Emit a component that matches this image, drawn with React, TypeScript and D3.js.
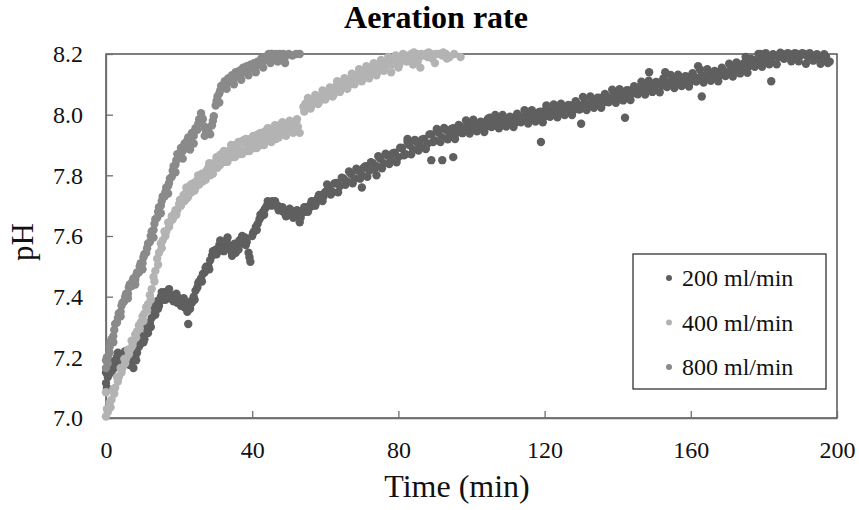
import * as d3 from 'd3';
import React, { useRef, useEffect } from 'react';

// pH readings [time (min), pH] for each aeration rate
const rate200: [number, number][] = [
  [0, 7.115], [0, 7.15], [0.5, 7.135], [1, 7.16], [1.5, 7.15], [2, 7.185], [2.5, 7.17], [3, 7.2], [3.5, 7.185],
  [4, 7.21], [4.5, 7.195], [5, 7.205], [5.5, 7.19], [6, 7.2], [6.5, 7.175], [7, 7.19], [7.5, 7.165], [8, 7.2],
  [8.5, 7.215], [9, 7.235], [9.5, 7.245], [10, 7.27], [10.5, 7.26], [11, 7.295], [11.5, 7.28], [12, 7.315],
  [12.5, 7.33], [13, 7.355], [13.5, 7.34], [14, 7.385], [14.5, 7.37], [15, 7.4], [15.5, 7.39], [16, 7.415],
  [16.5, 7.4], [17, 7.415], [17.5, 7.395], [18, 7.405], [18.5, 7.385], [19, 7.4], [19.5, 7.38], [20, 7.395],
  [20.5, 7.37], [21, 7.38], [21.5, 7.365], [22, 7.375], [22.5, 7.31], [23, 7.36], [23.5, 7.38], [24, 7.4],
  [24.5, 7.42], [25, 7.43], [25.5, 7.45], [26, 7.46], [26.5, 7.475], [27, 7.48], [27.5, 7.5], [28, 7.5],
  [28.5, 7.52], [29, 7.535], [29.5, 7.54], [30, 7.555], [30.5, 7.55], [31, 7.57], [31.5, 7.555], [32, 7.575],
  [32.5, 7.56], [33, 7.585], [33.5, 7.57], [34, 7.565], [34.5, 7.535], [35, 7.56], [35.5, 7.545], [36, 7.57],
  [36.5, 7.585], [37, 7.59], [37.5, 7.575], [38, 7.595], [38.5, 7.58], [39, 7.545], [39.5, 7.515], [40, 7.6],
  [40.5, 7.615], [41, 7.63], [41.5, 7.64], [42, 7.655], [42.5, 7.665], [43, 7.68], [43.5, 7.69], [44, 7.7],
  [44.5, 7.705], [45, 7.71], [45.5, 7.715], [46, 7.705], [46.5, 7.7], [47, 7.7], [47.5, 7.69], [48, 7.685],
  [48.5, 7.68], [49, 7.675], [49.5, 7.68], [50, 7.67], [50.5, 7.685], [51, 7.675], [51.5, 7.665], [52, 7.68],
  [52.5, 7.67], [53, 7.645], [53.5, 7.675], [54, 7.685], [54.5, 7.68], [55, 7.695], [55.5, 7.69], [56, 7.705],
  [56.5, 7.7], [57, 7.715], [57.5, 7.71], [58, 7.725], [58.5, 7.72], [59, 7.735], [59.5, 7.73], [60, 7.745],
  [0.25, 7.1], [1.25, 7.175], [2.25, 7.165], [3.25, 7.215], [4.25, 7.185], [5.25, 7.22], [6.25, 7.18],
  [7.25, 7.2], [8.25, 7.19], [9.25, 7.255], [10.25, 7.25], [11.25, 7.31], [12.25, 7.3], [13.25, 7.37],
  [14.25, 7.36], [15.25, 7.415], [16.25, 7.39], [17.25, 7.425], [18.25, 7.39], [19.25, 7.41], [20.25, 7.38],
  [21.25, 7.395], [22.25, 7.35], [23.25, 7.385], [24.25, 7.39], [25.25, 7.445], [26.25, 7.45], [27.25, 7.495],
  [28.25, 7.49], [29.25, 7.55], [30.25, 7.54], [31.25, 7.585], [32.25, 7.55], [33.25, 7.595], [34.25, 7.55],
  [35.25, 7.575], [36.25, 7.555], [37.25, 7.6], [38.25, 7.57], [39.25, 7.53], [40.25, 7.61], [41.25, 7.62],
  [42.25, 7.67], [43.25, 7.67], [44.25, 7.715], [45.25, 7.7], [46.25, 7.715], [47.25, 7.685], [48.25, 7.695],
  [49.25, 7.665], [50.25, 7.69], [51.25, 7.66], [52.25, 7.685], [53.25, 7.66], [54.25, 7.695], [55.25, 7.68],
  [56.25, 7.715], [57.25, 7.7], [58.25, 7.735], [59.25, 7.715],
  [61, 7.755], [62, 7.745], [63, 7.775], [64, 7.765], [65, 7.79], [66, 7.78], [67, 7.805], [68, 7.79],
  [69, 7.815], [70, 7.8], [71, 7.83], [72, 7.815], [73, 7.84], [74, 7.83], [75, 7.855], [76, 7.84], [77, 7.865],
  [78, 7.85], [79, 7.875], [80, 7.86], [81, 7.89], [82, 7.87], [83, 7.9], [84, 7.885], [85, 7.91], [86, 7.895],
  [87, 7.92], [88, 7.905], [89, 7.935], [90, 7.915], [91, 7.94], [92, 7.925], [93, 7.95], [94, 7.935],
  [95, 7.955], [96, 7.94], [97, 7.96], [98, 7.945], [99, 7.965], [100, 7.95], [101, 7.97], [102, 7.955],
  [103, 7.975], [104, 7.96], [105, 7.98], [106, 7.965], [107, 7.985], [108, 7.97], [109, 7.985], [110, 7.97],
  [111, 7.99], [112, 7.975], [113, 7.995], [114, 7.98], [115, 8.0], [116, 7.985], [117, 8.005], [118, 7.99],
  [119, 8.01], [120, 7.995], [121, 8.015], [122, 8.0], [123, 8.02], [124, 8.005], [125, 8.025], [126, 8.01],
  [127, 8.03], [128, 8.015], [129, 8.035], [130, 8.02], [131, 8.04], [132, 8.03], [133, 8.05], [134, 8.035],
  [135, 8.055], [136, 8.04], [137, 8.06], [138, 8.05], [139, 8.07], [140, 8.055], [141, 8.075], [142, 8.06],
  [143, 8.08], [144, 8.07], [145, 8.09], [146, 8.075], [147, 8.095], [148, 8.085], [149, 8.1], [150, 8.09],
  [151, 8.105], [152, 8.095], [153, 8.11], [154, 8.1], [155, 8.115], [156, 8.105], [157, 8.12], [158, 8.11],
  [159, 8.125], [160, 8.11], [161, 8.125], [162, 8.115], [163, 8.13], [164, 8.12], [165, 8.135], [166, 8.125],
  [167, 8.14], [168, 8.13], [169, 8.145], [170, 8.135], [171, 8.155], [172, 8.145], [173, 8.165], [174, 8.15],
  [175, 8.17], [176, 8.16], [177, 8.18], [178, 8.165], [179, 8.185], [180, 8.175], [181, 8.19], [182, 8.18],
  [183, 8.195], [184, 8.19], [185, 8.2], [186, 8.195], [187, 8.2], [188, 8.19], [189, 8.2], [190, 8.195],
  [191, 8.2], [192, 8.19], [193, 8.195], [194, 8.185], [195, 8.19], [196, 8.18], [197, 8.19], [198, 8.175],
  [60.5, 7.77], [61.5, 7.737], [62.5, 7.773], [63.5, 7.744], [64.5, 7.792], [65.5, 7.769], [66.5, 7.813],
  [67.5, 7.774], [68.5, 7.822], [69.5, 7.789], [70.5, 7.825], [71.5, 7.795], [72.5, 7.843], [73.5, 7.819],
  [74.5, 7.863], [75.5, 7.823], [76.5, 7.871], [77.5, 7.837], [78.5, 7.873], [79.5, 7.843], [80.5, 7.891],
  [81.5, 7.866], [82.5, 7.91], [83.5, 7.869], [84.5, 7.917], [85.5, 7.882], [86.5, 7.918], [87.5, 7.887],
  [88.5, 7.935], [89.5, 7.91], [90.5, 7.953], [91.5, 7.91], [92.5, 7.956], [93.5, 7.919], [94.5, 7.953],
  [95.5, 7.92], [96.5, 7.966], [97.5, 7.939], [98.5, 7.981], [99.5, 7.938], [100.5, 7.983], [101.5, 7.945],
  [102.5, 7.977], [103.5, 7.943], [104.5, 7.987], [105.5, 7.959], [106.5, 7.999], [107.5, 7.955],
  [108.5, 7.999], [109.5, 7.961], [110.5, 7.993], [111.5, 7.959], [112.5, 8.003], [113.5, 7.975],
  [114.5, 8.015], [115.5, 7.971], [116.5, 8.015], [117.5, 7.977], [118.5, 8.009], [119.5, 7.975],
  [120.5, 8.02], [121.5, 7.993], [122.5, 8.034], [123.5, 7.991], [124.5, 8.036], [125.5, 7.999],
  [126.5, 8.032], [127.5, 7.999], [128.5, 8.044], [129.5, 8.017], [130.5, 8.058], [131.5, 8.015],
  [132.5, 8.06], [133.5, 8.023], [134.5, 8.056], [135.5, 8.023], [136.5, 8.068], [137.5, 8.041],
  [138.5, 8.082], [139.5, 8.039], [140.5, 8.084], [141.5, 8.047], [142.5, 8.081], [143.5, 8.048],
  [144.5, 8.094], [145.5, 8.067], [146.5, 8.109], [147.5, 8.066], [148.5, 8.112], [149.5, 8.075],
  [150.5, 8.108], [151.5, 8.074], [152.5, 8.119], [153.5, 8.091], [154.5, 8.131], [155.5, 8.088],
  [156.5, 8.132], [157.5, 8.094], [158.5, 8.127], [159.5, 8.093], [160.5, 8.137], [161.5, 8.109],
  [162.5, 8.149], [163.5, 8.106], [164.5, 8.15], [165.5, 8.112], [166.5, 8.144], [167.5, 8.11],
  [168.5, 8.155], [169.5, 8.127], [170.5, 8.168], [171.5, 8.126], [172.5, 8.172], [173.5, 8.136],
  [174.5, 8.17], [175.5, 8.138], [176.5, 8.184], [177.5, 8.158], [178.5, 8.2], [179.5, 8.158],
  [180.5, 8.203], [181.5, 8.166], [182.5, 8.199], [183.5, 8.166], [184.5, 8.204], [185.5, 8.184],
  [186.5, 8.203], [187.5, 8.176], [188.5, 8.203], [189.5, 8.176], [190.5, 8.203], [191.5, 8.168],
  [192.5, 8.203], [193.5, 8.178], [194.5, 8.199], [195.5, 8.168], [196.5, 8.199], [197.5, 8.17],
  // scattered readings off the main band
  [70, 7.76], [74, 7.8], [82.5, 7.92], [89, 7.85], [92, 7.85], [95, 7.86], [100, 7.976], [105, 7.99],
  [119, 7.91], [120.5, 8.03], [130, 7.97], [142, 7.99], [148.6, 8.14], [153, 8.14], [162, 8.16], [163, 8.06],
  [182, 8.11], [179, 8.2], [175, 8.19],
];

const rate400: [number, number][] = [
  [0, 7.005], [0, 7.085], [0.5, 7.02], [1, 7.05], [1.5, 7.06], [2, 7.095], [2.5, 7.1], [3, 7.135], [3.5, 7.135],
  [4, 7.165], [4.5, 7.165], [5, 7.195], [5.5, 7.195], [6, 7.225], [6.5, 7.225], [7, 7.255], [7.5, 7.255],
  [8, 7.275], [8.5, 7.285], [9, 7.305], [9.5, 7.315], [10, 7.335], [10.5, 7.345], [11, 7.365], [11.5, 7.375],
  [12, 7.405], [12.5, 7.425], [13, 7.465], [13.5, 7.485], [14, 7.525], [14.5, 7.545], [15, 7.575], [15.5, 7.585],
  [16, 7.615], [16.5, 7.615], [17, 7.645], [17.5, 7.645], [18, 7.665], [18.5, 7.67], [19, 7.685], [19.5, 7.685],
  [20, 7.705], [20.5, 7.7], [21, 7.72], [21.5, 7.715], [22, 7.745], [22.5, 7.73], [23, 7.755], [23.5, 7.745],
  [24, 7.775], [24.5, 7.76], [25, 7.785], [25.5, 7.77], [26, 7.795], [26.5, 7.78], [27, 7.8], [27.5, 7.815],
  [28, 7.825], [28.5, 7.8], [29, 7.82], [29.5, 7.84], [30, 7.845], [30.5, 7.825], [31, 7.85], [31.5, 7.87],
  [32, 7.865], [32.5, 7.845], [33, 7.86], [33.5, 7.875], [34, 7.885], [34.5, 7.86], [35, 7.875], [35.5, 7.9],
  [36, 7.895], [36.5, 7.87], [37, 7.88], [37.5, 7.915], [38, 7.905], [38.5, 7.88], [39, 7.895], [39.5, 7.92],
  [40, 7.915], [40.5, 7.89], [41, 7.905], [41.5, 7.935], [42, 7.925], [42.5, 7.9], [43, 7.915], [43.5, 7.945],
  [44, 7.935], [44.5, 7.915], [45, 7.925], [45.5, 7.955], [46, 7.945], [46.5, 7.92], [47, 7.935], [47.5, 7.965],
  [48, 7.955], [48.5, 7.94], [49, 7.945], [49.5, 7.97], [50, 7.965], [50.5, 7.95], [51, 7.955], [51.5, 7.975],
  [52, 7.975], [52.5, 7.96], [53, 7.94],
  [0.25, 7.03], [1.25, 7.035], [2.25, 7.08], [3.25, 7.12], [4.25, 7.15], [5.25, 7.18], [6.25, 7.21],
  [7.25, 7.24], [8.25, 7.265], [9.25, 7.295], [10.25, 7.32], [11.25, 7.355], [12.25, 7.39], [13.25, 7.45],
  [14.25, 7.505], [15.25, 7.56], [16.25, 7.6], [17.25, 7.63], [18.25, 7.655], [19.25, 7.67], [20.25, 7.72],
  [21.25, 7.735], [22.25, 7.725], [23.25, 7.77], [24.25, 7.75], [25.25, 7.8], [26.25, 7.805], [27.25, 7.785],
  [28.25, 7.84], [29.25, 7.805], [30.25, 7.86], [31.25, 7.835], [32.25, 7.88], [33.25, 7.845], [34.25, 7.9],
  [35.25, 7.86], [36.25, 7.91], [37.25, 7.87], [38.25, 7.92], [39.25, 7.88], [40.25, 7.93], [41.25, 7.89],
  [42.25, 7.94], [43.25, 7.9], [44.25, 7.955], [45.25, 7.91], [46.25, 7.965], [47.25, 7.925], [48.25, 7.975],
  [49.25, 7.93], [50.25, 7.98], [51.25, 7.94], [52.25, 7.985],
  [54, 8.025], [54.5, 8.035], [55, 8.04], [55.5, 8.03], [56, 8.045], [57, 8.04], [57.5, 8.055], [58, 8.05],
  [59, 8.065], [59.5, 8.055], [60, 8.075], [61, 8.065], [61.5, 8.08], [62, 8.075], [63, 8.095], [63.5, 8.085],
  [64, 8.1], [65, 8.095], [65.5, 8.11], [66, 8.105], [67, 8.12], [67.5, 8.11], [68, 8.13], [69, 8.125],
  [69.5, 8.14], [70, 8.13], [71, 8.145], [71.5, 8.135], [72, 8.155], [73, 8.15], [73.5, 8.16], [74, 8.155],
  [75, 8.17], [75.5, 8.16], [76, 8.175], [77, 8.165], [77.5, 8.18], [78, 8.14], [79, 8.175], [79.5, 8.185],
  [80, 8.175], [81, 8.19], [81.5, 8.18], [82, 8.195], [83, 8.185], [83.5, 8.2], [84, 8.19], [85, 8.2],
  [85.5, 8.185], [86, 8.155], [87, 8.195], [87.5, 8.2], [88, 8.19], [89, 8.2], [90, 8.17], [91, 8.2],
  [92, 8.195], [93, 8.2], [94, 8.19], [97, 8.19],
  [56, 8.02], [58, 8.035], [60, 8.05], [62, 8.06], [64, 8.075], [66, 8.085], [68, 8.1], [70, 8.11],
  [72, 8.12], [74, 8.13], [76, 8.145], [80, 8.155], [84, 8.165], [22, 7.76], [31, 7.865],
  [54.25, 8.01], [55.25, 8.055], [56.25, 8.03], [57.25, 8.065], [58.25, 8.04], [59.25, 8.08], [60.25, 8.06],
  [61.25, 8.09], [62.25, 8.065], [63.25, 8.11], [64.25, 8.085], [65.25, 8.12], [66.25, 8.095], [67.25, 8.135],
  [68.25, 8.11], [69.25, 8.15], [70.25, 8.12], [71.25, 8.16], [72.25, 8.135], [73.25, 8.17], [74.25, 8.14],
  [75.25, 8.18], [76.25, 8.155], [77.25, 8.19], [78.25, 8.165], [79.25, 8.195], [80.25, 8.165], [81.25, 8.2],
  [82.25, 8.175], [83.25, 8.19], [84.25, 8.205], [85.25, 8.175], [86.25, 8.2], [88.25, 8.205], [89.25, 8.185],
  [90.25, 8.2], [92.25, 8.205], [93.25, 8.185], [95.25, 8.2],
];

const rate800: [number, number][] = [
  [0, 7.165], [0, 7.19], [0.5, 7.2], [0.5, 7.18], [1, 7.215], [1, 7.235], [1.5, 7.26], [2, 7.27], [2, 7.25],
  [2.5, 7.31], [3, 7.315], [3.5, 7.345], [4, 7.35], [4, 7.335], [4.5, 7.38], [5, 7.385], [5.5, 7.41], [6, 7.41],
  [6, 7.395], [6.5, 7.44], [7, 7.435], [7.5, 7.46], [8, 7.455], [8, 7.44], [8.5, 7.48], [9, 7.48], [9.5, 7.51],
  [10, 7.51], [10, 7.49], [10.5, 7.54], [11, 7.545], [11.5, 7.575], [12, 7.58], [12.5, 7.615], [13, 7.62],
  [13, 7.595], [13.5, 7.655], [14, 7.66], [14.5, 7.695], [15, 7.7], [15, 7.675], [15.5, 7.73], [16, 7.73],
  [16.5, 7.76], [17, 7.765], [17, 7.74], [17.5, 7.79], [18, 7.795], [18.5, 7.83], [19, 7.835], [19, 7.81],
  [19.5, 7.87], [20, 7.86], [20.5, 7.89], [21, 7.88], [21, 7.855], [21.5, 7.905], [22, 7.9], [22.5, 7.925],
  [23, 7.91], [23, 7.885], [23.5, 7.94], [24, 7.93], [24, 7.905], [24.5, 7.955], [25, 7.95], [25.5, 7.985],
  [26, 8.005], [26.5, 7.985], [27, 7.96], [27, 7.93], [27.5, 7.945], [28, 7.955], [28.5, 7.935], [29, 7.965],
  [29.5, 7.995], [30, 8.03], [30.5, 8.06], [31, 8.07], [31, 8.04], [31.5, 8.095], [32, 8.09], [32.5, 8.11],
  [33, 8.1], [33, 8.085], [33.5, 8.12], [34, 8.11], [34.5, 8.13], [35, 8.12], [35, 8.1], [35.5, 8.14],
  [36, 8.125], [36.5, 8.145], [37, 8.135], [37, 8.115], [37.5, 8.155], [38, 8.14], [38.5, 8.16], [39, 8.15],
  [39, 8.13], [39.5, 8.165], [40, 8.155], [40.5, 8.17], [41, 8.16], [41, 8.14], [41.5, 8.175], [42, 8.165],
  [42.5, 8.185], [43, 8.175], [43, 8.155], [43.5, 8.19], [44, 8.185], [44.5, 8.2], [45, 8.19], [45, 8.17],
  [45.5, 8.2], [46, 8.195], [46.5, 8.2], [47, 8.19], [47, 8.175], [47.5, 8.2], [48, 8.185], [48.5, 8.2],
  [49, 8.19], [49, 8.17], [50, 8.2], [53, 8.2],
  [0.25, 7.2], [1.25, 7.25], [2.25, 7.29], [3.25, 7.33], [4.25, 7.37], [5.25, 7.4], [6.25, 7.43], [7.25, 7.45],
  [8.25, 7.47], [9.25, 7.5], [10.25, 7.53], [11.25, 7.56], [12.25, 7.6], [13.25, 7.64], [14.25, 7.68],
  [15.25, 7.715], [16.25, 7.745], [17.25, 7.775], [18.25, 7.815], [19.25, 7.85], [20.25, 7.875],
  [21.25, 7.895], [22.25, 7.915], [23.25, 7.925], [24.25, 7.945], [25.25, 7.97], [26.25, 7.99], [27.25, 7.95],
  [28.25, 7.94], [29.25, 7.98], [30.25, 8.045], [31.25, 8.08], [32.25, 8.1], [33.25, 8.115], [34.25, 8.12],
  [35.25, 8.13], [36.25, 8.135], [37.25, 8.145], [38.25, 8.15], [39.25, 8.16], [40.25, 8.165], [41.25, 8.17],
  [42.25, 8.175], [43.25, 8.185], [44.25, 8.19], [45.25, 8.2], [46.25, 8.19], [48.25, 8.195], [51, 8.195],
  [52, 8.2],
];

const seriesNames = ['200 ml/min', '400 ml/min', '800 ml/min'];
const seriesColors = ['#5f5f5f', '#b3b3b3', '#8a8a8a'];
const xTicks = [0, 40, 80, 120, 160, 200];
const yTicks = [7.0, 7.2, 7.4, 7.6, 7.8, 8.0, 8.2];

const W = 859;
const H = 510;
const margin = { left: 106, right: 22, top: 54, bottom: 92 };
const font = '"Liberation Serif", "Times New Roman", serif';

function App() {
  const xAxisRef = useRef<SVGGElement>(null);
  const yAxisRef = useRef<SVGGElement>(null);

  const x = d3.scaleLinear().domain([0, 200]).range([margin.left, W - margin.right]);
  const y = d3.scaleLinear().domain([7.0, 8.2]).range([H - margin.bottom, margin.top]);

  useEffect(() => {
    const xAxis = d3.axisBottom(x).tickValues(xTicks).tickSizeInner(-7).tickSizeOuter(0).tickPadding(23)
      .tickFormat(d3.format('d'));
    const yAxis = d3.axisLeft(y).tickValues(yTicks).tickSizeInner(-7).tickSizeOuter(0).tickPadding(23)
      .tickFormat(d3.format('.1f'));

    const gx = d3.select(xAxisRef.current!).call(xAxis);
    const gy = d3.select(yAxisRef.current!).call(yAxis);
    [gx, gy].forEach((g) => {
      g.select('.domain').attr('stroke', '#6e6e6e').attr('stroke-width', 1.3);
      g.selectAll('.tick line').attr('stroke', '#6e6e6e').attr('stroke-width', 1.3);
      g.selectAll('.tick text').attr('fill', '#111').style('font-family', font).style('font-size', '24px');
    });
  }, []);

  const series = [rate200, rate400, rate800];

  return (
    <svg width={W} height={H} style={{ position: 'absolute', left: 0, top: 0, background: '#fff' }}>
      <rect x={margin.left} y={margin.top} width={W - margin.left - margin.right}
        height={H - margin.top - margin.bottom} fill="none" stroke="#3a3a3a" strokeWidth={1.3} />
      <g className="x-axis" ref={xAxisRef} transform={`translate(0,${H - margin.bottom})`} />
      <g className="y-axis" ref={yAxisRef} transform={`translate(${margin.left},0)`} />

      {series.map((data, i) => (
        <g key={seriesNames[i]} fill={seriesColors[i]}>
          {data.map(([t, ph], j) => (
            <circle key={j} cx={x(t)} cy={y(ph)} r={4.2} />
          ))}
        </g>
      ))}

      <text x={436} y={28} textAnchor="middle" fontFamily={font} fontSize={32} fontWeight="bold" fill="#000">
        Aeration rate
      </text>
      <text x={457} y={497} textAnchor="middle" fontFamily={font} fontSize={32} fill="#111">
        Time (min)
      </text>
      <text transform="translate(33,242) rotate(-90)" textAnchor="middle" fontFamily={font} fontSize={31} fill="#111">
        pH
      </text>

      <g className="legend">
        <rect x={633} y={254} width={193} height={135} fill="#fff" stroke="#222" strokeWidth={1.2} />
        {seriesNames.map((name, i) => (
          <g key={name} transform={`translate(669,${278 + i * 44.5})`}>
            <circle r={3} fill={seriesColors[i]} />
            <text x={13} y={8} fontFamily={font} fontSize={24} fill="#111">{name}</text>
          </g>
        ))}
      </g>
    </svg>
  );
}

export default App;
